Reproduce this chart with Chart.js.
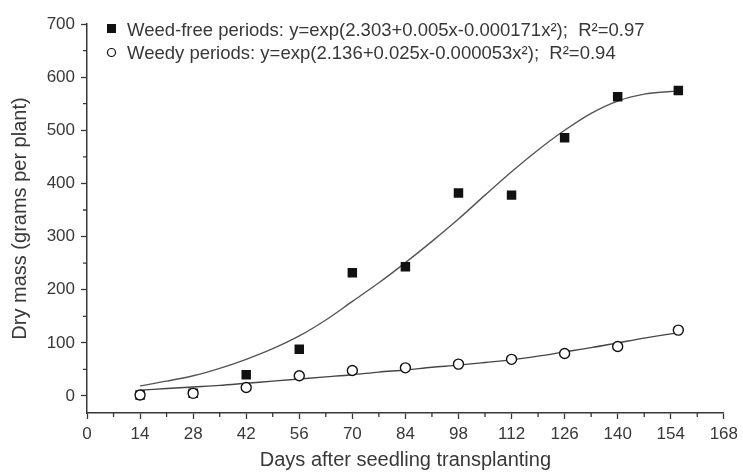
<!DOCTYPE html>
<html>
<head>
<meta charset="utf-8">
<script src="https://cdn.jsdelivr.net/npm/chart.js@4.4.1/dist/chart.umd.min.js"></script>
<style>
  html, body { margin: 0; padding: 0; background: #fff; }
  #wrap { width: 743px; height: 476px; position: relative; }
</style>
</head>
<body>
<div id="wrap"><canvas id="chart"></canvas></div>
<script>
"use strict";

// measured points
const freeDays = [14, 28, 42, 56, 70, 84, 98, 112, 126, 140, 156];
const freeMass = [2, 5, 40, 88, 232, 243, 382, 378, 486, 563, 575];
const weedyDays = [14, 28, 42, 56, 70, 84, 98, 112, 126, 140, 156];
const weedyMass = [2, 5, 16, 38, 48, 53, 60, 69, 80, 93, 124];

// fitted curves
const fitDays = [14, 21, 28, 35, 42, 49, 56, 63, 70, 77, 84, 91, 98, 105, 112, 119, 126, 133, 140, 147, 154, 156];
const freeFit = [19, 28, 38, 52, 69, 89, 113, 143, 178, 213, 251, 291, 333, 378, 422, 463, 500, 532, 555, 568, 573, 574];
const weedyFit = [11, 14, 17, 20, 24, 28, 32, 36, 40, 45, 49, 54, 58, 63, 68, 75, 83, 91, 100, 109, 117, 119];

const legendLines = [
    "Weed-free periods: y=exp(2.303+0.005x-0.000171x\u00b2);  R\u00b2=0.97",
    "Weedy periods: y=exp(2.136+0.025x-0.000053x\u00b2);  R\u00b2=0.94"
];

const xTicks = [0, 14, 28, 42, 56, 70, 84, 98, 112, 126, 140, 154, 168];
const yTicks = [0, 100, 200, 300, 400, 500, 600, 700];

const ink = "#383838";
const font = "'Liberation Sans', Arial, sans-serif";

const toPts = (xs, ys) => xs.map((x, i) => ({ x, y: ys[i] }));

// minor ticks + legend drawn on the canvas
const extras = {
    id: "extras",
    afterDraw(chart) {
        const { ctx, scales: { x, y } } = chart;
        ctx.save();
        ctx.strokeStyle = ink;
        ctx.lineWidth = 1.3;
        ctx.beginPath();
        for (let d = 7; d < 168; d += 14) {
            const px = x.getPixelForValue(d);
            ctx.moveTo(px, y.bottom);
            ctx.lineTo(px, y.bottom + 4);
        }
        for (let m = 50; m < 700; m += 100) {
            const py = y.getPixelForValue(m);
            ctx.moveTo(x.left, py);
            ctx.lineTo(x.left - 4, py);
        }
        ctx.stroke();

        // legend
        ctx.font = "18.5px " + font;
        ctx.fillStyle = ink;
        ctx.textBaseline = "middle";
        ctx.fillText(legendLines[0], 127, 31);
        ctx.fillText(legendLines[1], 127, 54);
        ctx.fillStyle = "#111";
        ctx.fillRect(107, 24, 9, 9);
        ctx.beginPath();
        ctx.arc(111.5, 52.5, 4, 0, Math.PI * 2);
        ctx.fillStyle = "#fff";
        ctx.fill();
        ctx.lineWidth = 1.2;
        ctx.strokeStyle = "#111";
        ctx.stroke();
        ctx.restore();
    }
};

new Chart(document.getElementById("chart"), {
    type: "scatter",
    data: {
        datasets: [
            {
                label: "Weedy",
                data: toPts(weedyDays, weedyMass),
                pointStyle: "circle",
                pointRadius: 5,
                pointBorderWidth: 1.4,
                borderColor: "#111",
                backgroundColor: "#fff",
                order: 0
            },
            {
                label: "Weed-free",
                data: toPts(freeDays, freeMass),
                pointStyle: "rect",
                pointRadius: 6.7,
                pointBorderWidth: 0,
                borderColor: "#111",
                backgroundColor: "#111",
                order: 1
            },
            {
                type: "line",
                label: "Weed-free fit",
                data: toPts(fitDays, freeFit),
                borderColor: "#555",
                borderWidth: 1.4,
                pointRadius: 0,
                cubicInterpolationMode: "monotone",
                fill: false,
                order: 2
            },
            {
                type: "line",
                label: "Weedy fit",
                data: toPts(fitDays, weedyFit),
                borderColor: "#444",
                borderWidth: 1.4,
                pointRadius: 0,
                cubicInterpolationMode: "monotone",
                fill: false,
                order: 2
            }
        ]
    },
    options: {
        responsive: true,
        maintainAspectRatio: false,
        animation: false,
        layout: { padding: { top: 24, right: 15, left: 0, bottom: 0 } },
        plugins: {
            legend: { display: false },
            tooltip: { enabled: false }
        },
        scales: {
            x: {
                type: "linear",
                min: 0,
                max: 168,
                afterBuildTicks: s => { s.ticks = xTicks.map(v => ({ value: v })); },
                afterFit: s => { s.height = 63; },
                ticks: { color: ink, font: { family: font, size: 17 }, padding: 5, maxRotation: 0, autoSkip: false },
                grid: { drawOnChartArea: false, tickLength: 6, color: ink, tickWidth: 1.3 },
                border: { color: ink, width: 1.5 },
                title: {
                    display: true,
                    text: "Days after seedling transplanting",
                    color: ink,
                    font: { family: font, size: 20 },
                    padding: { top: 2, bottom: 4 }
                }
            },
            y: {
                min: -32,
                max: 700,
                afterBuildTicks: s => { s.ticks = yTicks.map(v => ({ value: v })); },
                afterFit: s => { s.width = 87; },
                ticks: { color: ink, font: { family: font, size: 17 }, padding: 6 },
                grid: { drawOnChartArea: false, tickLength: 6, color: ink, tickWidth: 1.3 },
                border: { color: ink, width: 1.5 },
                title: {
                    display: true,
                    text: "Dry mass (grams per plant)",
                    color: ink,
                    font: { family: font, size: 20 },
                    padding: { top: 8, bottom: 4 }
                }
            }
        }
    },
    plugins: [extras]
});
</script>
</body>
</html>
